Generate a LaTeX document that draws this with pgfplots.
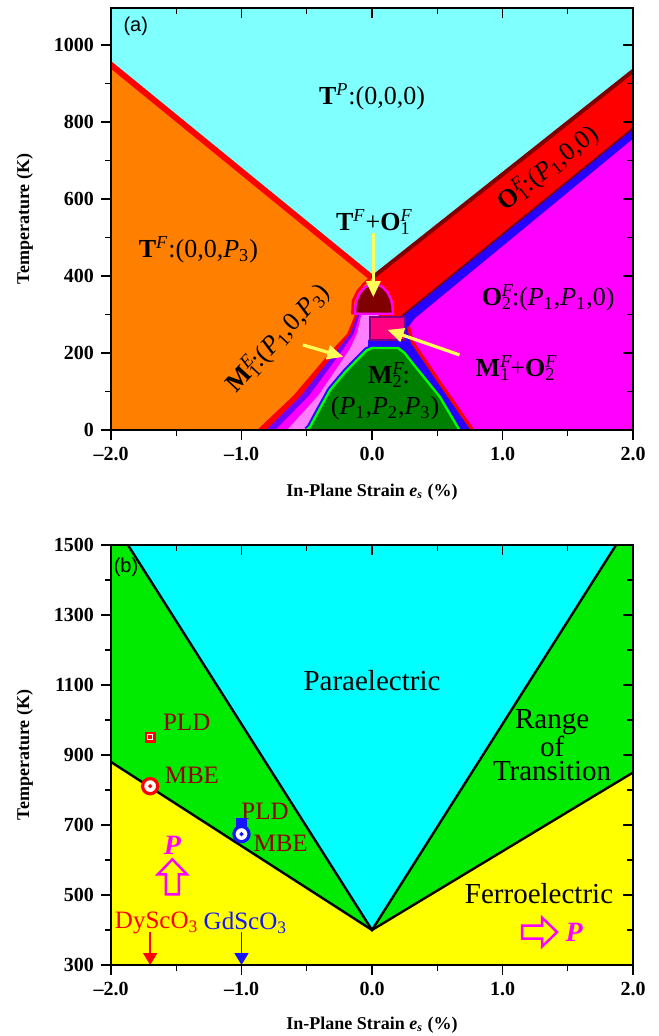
\documentclass[border=0pt]{standalone}
\usepackage{fontspec}
\setmainfont{Liberation Serif}
\newfontfamily\sansf{Liberation Sans}
\usepackage{pgfplots}
\pgfplotsset{compat=1.18}
\usetikzlibrary{arrows.meta}
\definecolor{cyanA}{RGB}{128,255,255}
\definecolor{orangeA}{RGB}{255,128,0}
\definecolor{redA}{RGB}{255,0,0}
\definecolor{darkredA}{RGB}{128,0,0}
\definecolor{magA}{RGB}{255,0,255}
\definecolor{pinkA}{RGB}{255,128,255}
\definecolor{purpA}{RGB}{110,0,255}
\definecolor{blueA}{RGB}{40,0,255}
\definecolor{dpinkA}{RGB}{255,0,128}
\definecolor{violA}{RGB}{128,0,128}
\definecolor{dgreenA}{RGB}{0,128,0}
\definecolor{lgreenA}{RGB}{0,255,0}
\definecolor{yelA}{RGB}{255,255,90}
\definecolor{cyanB}{RGB}{0,255,255}
\definecolor{greenB}{RGB}{0,235,0}
\definecolor{yellowB}{RGB}{255,255,0}
\definecolor{brownB}{RGB}{150,0,0}
\definecolor{blueB}{RGB}{20,20,255}
\newcommand{\SupSub}[2]{\rlap{\textsuperscript{\textit{#1}}}\textsubscript{#2}}
\newcommand{\Pp}[1]{\textit{P}\textsubscript{#1}}
\newcommand{\Sup}[1]{\textsuperscript{\textit{#1}}}
\pgfplotsset{
  base/.style={scale only axis, width=261pt, xmin=-2, xmax=2,
    xtick={-2,-1,0,1,2}, minor xtick={-1.5,-0.5,0.5,1.5},
    major tick length=5pt, minor tick length=3pt,
    axis line style={line width=0.7pt},
    every tick/.style={black, line width=0.7pt}},
  mainax/.style={base, axis on top, tick align=outside, xtick pos=left, ytick pos=left,
    xticklabels={–2.0,–1.0,0.0,1.0,2.0},
    tick label style={font=\bfseries\fontsize{10}{12}\selectfont},
    xlabel={In-Plane Strain \textit{e}\textsubscript{\textit{s}} (\%)},
    ylabel={Temperature (K)},
    label style={font=\bfseries\fontsize{9}{11}\selectfont},
    ylabel style={at={(axis description cs:-0.165,0.5)}, anchor=center}},
  overax/.style={base, tick align=inside, xtick pos=right, ytick pos=right,
    xticklabels={}, yticklabels={}},
}
\tikzset{
  lab/.style={font=\fontsize{13}{15}\selectfont, inner sep=0pt},
  labB/.style={font=\fontsize{14.5}{12}\selectfont, inner sep=0pt},
  labS/.style={font=\fontsize{12.5}{14}\selectfont, inner sep=0pt},
}
\begin{document}
\begin{tikzpicture}
% ---------------- panel (a)
\begin{axis}[mainax, height=211pt, ymin=0, ymax=1096,
  ytick={0,200,400,600,800,1000}, minor ytick={100,300,500,700,900},
  yticklabels={0,200,400,600,800,1000},
  xlabel style={at={(axis description cs:0.5,-0.147)}, anchor=center},
  axis background/.style={fill=cyanA}]
\addplot[fill=orangeA, draw=none] coordinates {(-2,0) (-2,948) (0,395) (0,0)} -- cycle;
\addplot[fill=redA, draw=none] coordinates {(0,395) (2,932) (2,0) (0,0)} -- cycle;
% M1 bands
\addplot[fill=redA, draw=none] coordinates {(-0.88,0) (-0.60,90) (-0.30,210) (-0.19,250) (-0.13,300) (0.05,300) (0.05,0)} -- cycle;
\addplot[fill=purpA, draw=none] coordinates {(-0.81,0) (-0.54,90) (-0.26,210) (-0.165,250) (-0.11,300) (0.05,300) (0.05,0)} -- cycle;
\addplot[fill=magA, draw=none] coordinates {(-0.74,0) (-0.48,90) (-0.22,210) (-0.14,250) (-0.095,300) (0.05,300) (0.05,0)} -- cycle;
\addplot[fill=pinkA, draw=none] coordinates {(-0.65,0) (-0.41,90) (-0.17,210) (-0.115,250) (-0.08,300) (0.05,300) (0.05,0)} -- cycle;
% right side
\addplot[fill=blueA, draw=none] coordinates {(2,0) (2,784) (0.21,291) (0.21,234) (-0.03,234) (-0.03,0)} -- cycle;
\addplot[darkredA, line width=0.8pt] coordinates {(0.21,291) (2,784)};
\addplot[fill=magA, draw=none] coordinates {(2,0) (2,756) (0.33,290) (0.28,268) (0.31,228) (0.53,118) (0.77,0)} -- cycle;
\addplot[redA, line width=1.6pt] coordinates {(0.28,268) (0.31,228) (0.53,118) (0.77,0)};
% M2
\addplot[blueA, line width=3.2pt] coordinates {(-0.50,0) (-0.475,8) (-0.40,55) (-0.32,104) (-0.20,152) (-0.09,190) (-0.04,207) (0.0,213) (0.2,213) (0.25,200) (0.31,174) (0.52,86) (0.60,40) (0.67,0)};
\addplot[fill=dgreenA, draw=none] coordinates {(-0.50,0) (-0.475,8) (-0.40,55) (-0.32,104) (-0.20,152) (-0.09,190) (-0.04,207) (0.0,213) (0.2,213) (0.25,200) (0.31,174) (0.52,86) (0.60,40) (0.67,0)} -- cycle;
\addplot[lgreenA, line width=1.2pt] coordinates {(-0.50,0) (-0.475,8) (-0.40,55) (-0.32,104) (-0.20,152) (-0.09,190) (-0.04,207) (0.0,213) (0.2,213) (0.25,200) (0.31,174) (0.52,86) (0.60,40) (0.67,0)};
% square and dome
\addplot[fill=dpinkA, draw=violA, line width=1pt] coordinates {(-0.015,234) (0.25,234) (0.25,293) (-0.015,293)} -- cycle;
\addplot[redA, line width=1.4pt] coordinates {(-0.02,392) (-0.06,380) (-0.11,360) (-0.145,335) (-0.15,300)};
\addplot[fill=darkredA, draw=magA, line width=1.2pt] coordinates {(-0.13,302) (-0.127,322) (-0.115,340) (-0.09,357) (-0.055,370) (-0.02,377) (0.015,379) (0.05,377) (0.085,370) (0.12,357) (0.145,340) (0.157,322) (0.16,302)} -- cycle;
% top boundary
\addplot[redA, line width=3pt] coordinates {(-2.05,962) (0,395)};
\addplot[darkredA, line width=2pt] coordinates {(0,395) (2.05,946)};
% arrows
\draw[yelA, line width=1.6pt, -{Triangle[length=8pt,width=7pt]}] (axis cs:0.01,512) -- (axis cs:0.01,345);
\draw[yelA, line width=1.6pt, -{Triangle[length=8pt,width=7pt]}] (axis cs:-0.53,221) -- (axis cs:-0.22,190);
\draw[yelA, line width=1.6pt, -{Triangle[length=8pt,width=7pt]}] (axis cs:0.67,195) -- (axis cs:0.12,260);
% labels
\node[font=\sansf\fontsize{10}{12}\selectfont] at (axis cs:-1.81,1049) {(a)};
\node[lab] at (axis cs:0,865) {\textbf{T}\Sup{P}:(0,0,0)};
\node[lab] at (axis cs:-1.33,468) {\textbf{T}\Sup{F}:(0,0,\Pp{3})};
\node[lab] at (axis cs:0.01,540) {\textbf{T}\Sup{F}+\textbf{O}\SupSub{F}{1}};
\node[lab, rotate=38] at (axis cs:1.35,680) {\textbf{O}\SupSub{F}{1}:(\Pp{1},0,0)};
\node[lab] at (axis cs:1.35,343) {\textbf{O}\SupSub{F}{2}:(\Pp{1},\Pp{1},0)};
\node[lab, rotate=47] at (axis cs:-0.72,238) {\textbf{M}\SupSub{E}{1}:(\Pp{1},0,\Pp{3})};
\node[lab] at (axis cs:0.13,143) {\textbf{M}\SupSub{F}{2}:};
\node[lab] at (axis cs:0.1,57) {(\Pp{1},\Pp{2},\Pp{3})};
\node[lab] at (axis cs:1.1,161) {\textbf{M}\SupSub{F}{1}+\textbf{O}\SupSub{F}{2}};
\end{axis}
\begin{axis}[overax, height=211pt, ymin=0, ymax=1096,
  ytick={0,200,400,600,800,1000}, minor ytick={100,300,500,700,900}]
\end{axis}
% ---------------- panel (b)
\begin{axis}[mainax, at={(0,-267.5pt)}, height=210pt, ymin=300, ymax=1500,
  ytick={300,500,700,900,1100,1300,1500}, minor ytick={400,600,800,1000,1200,1400},
  yticklabels={300,500,700,900,1100,1300,1500},
  xlabel style={at={(axis description cs:0.5,-0.143)}, anchor=center}]
\addplot[fill=greenB, draw=none] coordinates {(-2,300) (-2,1500) (2,1500) (2,300)} -- cycle;
\addplot[fill=cyanB, draw=none] coordinates {(-1.87,1500) (0,400) (1.87,1500)} -- cycle;
\addplot[fill=yellowB, draw=none] coordinates {(-2,300) (-2,880) (0,400) (2,850) (2,300)} -- cycle;
\addplot[black, line width=1.2pt] coordinates {(-1.87,1500) (0,400) (1.87,1500)};
\addplot[black, line width=1.2pt] coordinates {(-2,880) (0,400) (2,850)};
% markers
\addplot[only marks, mark=square*, mark size=2.2pt, mark options={draw=redA, fill=white, line width=1.2pt}] coordinates {(-1.70,951)};
\addplot[only marks, mark=square*, mark size=0.7pt, mark options={draw=redA, fill=redA}] coordinates {(-1.70,951)};
\addplot[only marks, mark=*, mark size=3.8pt, mark options={draw=redA, fill=white, line width=1.6pt}] coordinates {(-1.70,811)};
\addplot[only marks, mark=*, mark size=0.8pt, mark options={draw=redA, fill=redA}] coordinates {(-1.70,811)};
\addplot[only marks, mark=square*, mark size=2.6pt, mark options={draw=blueB, fill=blueB}] coordinates {(-1.0,703)};
\addplot[only marks, mark=*, mark size=3.8pt, mark options={draw=blueB, fill=white, line width=1.6pt}] coordinates {(-1.0,674)};
\addplot[only marks, mark=*, mark size=0.8pt, mark options={draw=blueB, fill=blueB}] coordinates {(-1.0,674)};
% substrate arrows
\draw[redA, line width=0.9pt, -{Triangle[length=6pt,width=7pt]}] (axis cs:-1.70,394) -- (axis cs:-1.70,300);
\draw[blueB, line width=0.9pt, -{Triangle[length=6pt,width=7pt]}] (axis cs:-1.0,394) -- (axis cs:-1.0,300);
% hollow arrows
\draw[magA, line width=1.2pt, line join=miter] (axis cs:-1.53,502) ++(-3.25pt,0pt) -- ++(0pt,10pt) -- ++(-4pt,0pt) -- ++(7.25pt,7.5pt) -- ++(7.25pt,-7.5pt) -- ++(-4pt,0pt) -- ++(0pt,-10pt) -- cycle;
\draw[magA, line width=1.2pt, line join=miter] (axis cs:1.15,394) ++(0pt,3.25pt) -- ++(10pt,0pt) -- ++(0pt,4pt) -- ++(7.5pt,-7.25pt) -- ++(-7.5pt,-7.25pt) -- ++(0pt,4pt) -- ++(-10pt,0pt) -- cycle;
% labels
\node[font=\sansf\fontsize{10}{12}\selectfont] at (axis cs:-1.885,1437) {(b)};
\node[labB] at (axis cs:0,1114) {Paraelectric};
\node[labB, align=center] at (axis cs:1.38,928) {Range\\of\\Transition};
\node[labB] at (axis cs:1.28,505) {Ferroelectric};
\node[labS, text=brownB] at (axis cs:-1.42,994) {PLD};
\node[labS, text=brownB] at (axis cs:-1.38,843) {MBE};
\node[labS, text=brownB] at (axis cs:-0.82,740) {PLD};
\node[labS, text=brownB] at (axis cs:-0.70,649) {MBE};
\node[labS, text=redA] at (axis cs:-1.65,420) {DyScO\textsubscript{3}};
\node[labS, text=blueB] at (axis cs:-0.97,420) {GdScO\textsubscript{3}};
\node[font=\bfseries\itshape\fontsize{14}{16}\selectfont, text=magA, inner sep=0pt] at (axis cs:-1.53,643) {P};
\node[font=\bfseries\itshape\fontsize{14}{16}\selectfont, text=magA, inner sep=0pt] at (axis cs:1.55,394) {P};
\end{axis}
\begin{axis}[overax, at={(0,-267.5pt)}, height=210pt, ymin=300, ymax=1500,
  ytick={300,500,700,900,1100,1300,1500}, minor ytick={400,600,800,1000,1200,1400}]
\end{axis}
\pgfresetboundingbox
\path[use as bounding box] (-55.5pt,-303pt) rectangle (273.5pt,215pt);
\end{tikzpicture}
\end{document}
